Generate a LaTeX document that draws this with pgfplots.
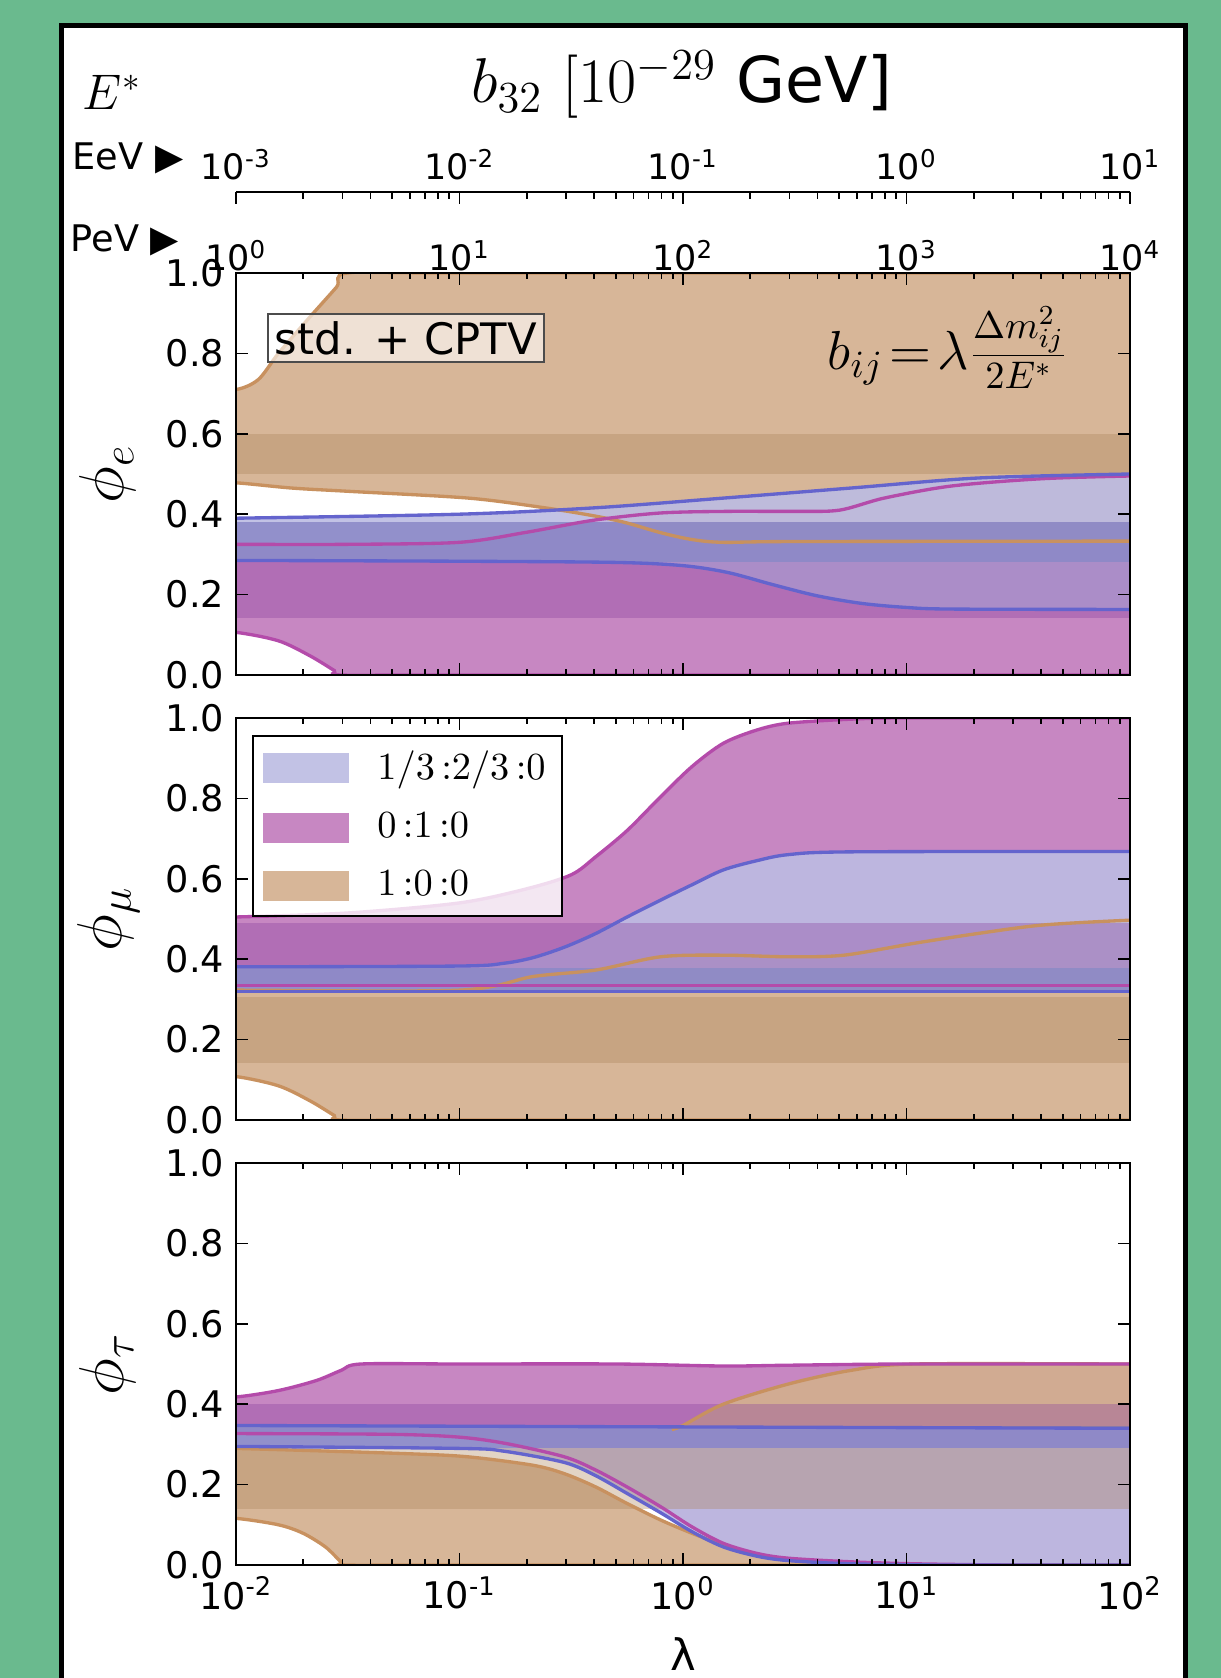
\RequirePackage{fix-cm}
\documentclass[border=0pt]{standalone}
\usepackage{fontspec}
\setmainfont{DejaVu Sans}
\usepackage{pgfplots}
\pgfplotsset{compat=1.18}

\definecolor{bgG}{RGB}{106,186,142}
\definecolor{tanF}{RGB}{211,175,141}
\definecolor{magF}{RGB}{194,122,188}
\definecolor{bluF}{RGB}{188,188,227}
\definecolor{tanS}{RGB}{172,132,89}
\definecolor{magS}{RGB}{138,66,159}
\definecolor{bluS}{RGB}{75,70,165}
\definecolor{tanE}{RGB}{200,145,95}
\definecolor{magE}{RGB}{180,75,170}
\definecolor{bluE}{RGB}{100,100,205}

\begin{document}
\begin{tikzpicture}
\path[use as bounding box] (0,0) rectangle (366.3pt,503.4pt);
\fill[bgG] (0,0) rectangle (366.3pt,503.4pt);
\fill[white] (18.3pt,-5pt) rectangle (355.65pt,495.6pt);
\draw[line width=1.5pt] (18.3pt,-5pt) -- (18.3pt,495.6pt) -- (355.65pt,495.6pt) -- (355.65pt,-5pt);

\node[anchor=base, font=\fontsize{19}{22}\selectfont] at (204.6pt,472.5pt) {$b_{32}$ $[10^{-29}$ GeV]};
\node[anchor=base, font=\fontsize{15}{17}\selectfont] at (33.6pt,470.4pt) {$E^*$};
\node[anchor=base west, inner sep=0, font=\fontsize{11}{13}\selectfont] at (21.6pt,452.4pt) {EeV ▶};
\node[anchor=base west, inner sep=0, font=\fontsize{11}{13}\selectfont] at (21pt,427.8pt) {PeV ▶};

% top energy axis (EeV)
\begin{axis}[
  at={(70.8pt,445.8pt)}, anchor=north west,
  scale only axis, width=268.2pt, height=20pt,
  xmode=log, xmin=0.001, xmax=10, ymin=0, ymax=1,
  axis x line*=top, axis y line=none,
  xtick={0.001,0.01,0.1,1,10},
  minor xtick={0.002,0.003,0.004,0.005,0.006,0.007,0.008,0.009,
               0.02,0.03,0.04,0.05,0.06,0.07,0.08,0.09,
               0.2,0.3,0.4,0.5,0.6,0.7,0.8,0.9,2,3,4,5,6,7,8,9},
  xticklabels={10\textsuperscript{-3},10\textsuperscript{-2},10\textsuperscript{-1},10\textsuperscript{0},10\textsuperscript{1}},
  tick align=inside, major tick length=3.6pt, minor tick length=2pt,
  axis line style={line width=0.8pt, -},
  every tick/.style={black, line width=0.5pt},
  tick label style={font=\fontsize{10.5}{12}\selectfont},
]
\end{axis}

% ---------------- phi_e ----------------
\begin{axis}[at={(70.8pt,300.9pt)}, anchor=south west,
  scale only axis, width=268.2pt, height=120.6pt,
  xmode=log, xmin=0.01, xmax=100, ymin=0, ymax=1, axis on top,
  xtick={0.01,0.1,1,10,100},
  minor xtick={0.02,0.03,0.04,0.05,0.06,0.07,0.08,0.09,0.2,0.3,0.4,0.5,0.6,0.7,0.8,0.9,
               2,3,4,5,6,7,8,9,20,30,40,50,60,70,80,90},
  ytick={0,0.2,0.4,0.6,0.8,1}, yticklabels={0.0,0.2,0.4,0.6,0.8,1.0},
  xtick pos=both, ytick pos=both, tick align=inside,
  major tick length=3.6pt, minor tick length=1.8pt,
  axis line style={line width=0.8pt},
  every tick/.style={black, line width=0.5pt},
  tick label style={font=\fontsize{11}{13}\selectfont},
  ylabel style={at={(axis description cs:-0.143,0.5)}, anchor=center, font=\fontsize{19}{22}\selectfont},
  xticklabel pos=right, xticklabel style={yshift=-3pt, font=\fontsize{10.5}{12}\selectfont},
  xticklabels={10\textsuperscript{0},10\textsuperscript{1},10\textsuperscript{2},10\textsuperscript{3},10\textsuperscript{4}},
  ylabel={$\phi_e$}]
% bands: 0:1:0, 1:0:0, 1/3:2/3:0
\addplot[smooth, fill=magF, fill opacity=0.9, draw=none] coordinates {(0.007,0.325) (0.01,0.325) (0.03162,0.325) (0.1,0.33) (0.1995,0.355) (0.3981,0.385) (0.7943,0.403) (1.585,0.407) (3.162,0.407) (5.012,0.41) (7.943,0.44) (15.85,0.47) (39.81,0.488) (100,0.495) (140,0.495)
  (140,0) (100,0) (0.1,0) (0.02951,0) (0.02754,0.011) (0.02138,0.048) (0.01549,0.085) (0.01,0.106) (0.007,0.106)} --cycle;
\addplot[smooth, fill=tanF, fill opacity=0.9, draw=none] coordinates {(0.007,0.71) (0.01,0.71) (0.01259,0.735) (0.01549,0.80) (0.02138,0.89) (0.02818,0.965) (0.03162,1.0) (0.1,1.0) (100,1.0) (140,1.0)
  (140,0.333) (100,0.333) (3.162,0.332) (1.514,0.33) (1.096,0.337) (0.7943,0.354) (0.5623,0.378) (0.4074,0.395) (0.2399,0.416) (0.1097,0.44) (0.03162,0.457) (0.01778,0.465) (0.01,0.478) (0.007,0.478)} --cycle;
\addplot[smooth, fill=bluF, fill opacity=0.9, draw=none] coordinates {(0.007,0.39) (0.01,0.39) (0.1,0.40) (0.4074,0.416) (1.514,0.44) (5.623,0.465) (20.89,0.49) (100,0.5) (140,0.5)
  (140,0.163) (100,0.163) (15.85,0.164) (10,0.168) (6.31,0.178) (3.981,0.197) (2.512,0.225) (1.585,0.255) (1,0.272) (0.5012,0.28) (0.1,0.283) (0.01,0.285) (0.007,0.285)} --cycle;
% standard ranges
\addplot[fill=tanS, fill opacity=0.35, draw=none] coordinates {(0.01,0.5) (100,0.5) (100,0.6) (0.01,0.6)} --cycle;
\addplot[fill=bluS, fill opacity=0.4, draw=none] coordinates {(0.01,0.28) (100,0.28) (100,0.38) (0.01,0.38)} --cycle;
\addplot[fill=magS, fill opacity=0.35, draw=none] coordinates {(0.01,0.143) (100,0.143) (100,0.28) (0.01,0.28)} --cycle;
% edges
\addplot[smooth, tanE, line width=1pt] coordinates {(0.007,0.71) (0.01,0.71) (0.01259,0.735) (0.01549,0.80) (0.02138,0.89) (0.02818,0.965) (0.03162,1.0) (0.1,1.0) (100,1.0) (140,1.0)};
\addplot[smooth, tanE, line width=1pt] coordinates {(0.007,0.478) (0.01,0.478) (0.01778,0.465) (0.03162,0.457) (0.1097,0.44) (0.2399,0.416) (0.4074,0.395) (0.5623,0.378) (0.7943,0.354) (1.096,0.337) (1.514,0.33) (3.162,0.332) (100,0.333) (140,0.333)};
\addplot[smooth, magE, line width=1pt] coordinates {(0.007,0.325) (0.01,0.325) (0.03162,0.325) (0.1,0.33) (0.1995,0.355) (0.3981,0.385) (0.7943,0.403) (1.585,0.407) (3.162,0.407) (5.012,0.41) (7.943,0.44) (15.85,0.47) (39.81,0.488) (100,0.495) (140,0.495)};
\addplot[smooth, magE, line width=1pt] coordinates {(0.007,0.106) (0.01,0.106) (0.01549,0.085) (0.02138,0.048) (0.02754,0.011) (0.02951,0) (0.1,0) (100,0) (140,0)};
\addplot[smooth, bluE, line width=1pt] coordinates {(0.007,0.39) (0.01,0.39) (0.1,0.40) (0.4074,0.416) (1.514,0.44) (5.623,0.465) (20.89,0.49) (100,0.5) (140,0.5)};
\addplot[smooth, bluE, line width=1pt] coordinates {(0.007,0.285) (0.01,0.285) (0.1,0.283) (0.5012,0.28) (1,0.272) (1.585,0.255) (2.512,0.225) (3.981,0.197) (6.31,0.178) (10,0.168) (15.85,0.164) (100,0.163) (140,0.163)};
\node[draw=gray!60!black, fill=white, fill opacity=0.6, text opacity=1, line width=0.6pt,
      font=\fontsize{13}{15}\selectfont, inner sep=2.2pt] at (rel axis cs:0.190,0.838) {std. + CPTV};
\node[anchor=base west, inner sep=0, font=\fontsize{16.5}{19}\selectfont] at (rel axis cs:0.661,0.761) {$b_{ij}\!=\!\lambda\frac{\Delta m^2_{ij}}{2E^*}$};
\end{axis}

% ---------------- phi_mu ----------------
\begin{axis}[at={(70.8pt,167.4pt)}, anchor=south west,
  scale only axis, width=268.2pt, height=120.6pt,
  xmode=log, xmin=0.01, xmax=100, ymin=0, ymax=1, axis on top,
  xtick={0.01,0.1,1,10,100},
  minor xtick={0.02,0.03,0.04,0.05,0.06,0.07,0.08,0.09,0.2,0.3,0.4,0.5,0.6,0.7,0.8,0.9,
               2,3,4,5,6,7,8,9,20,30,40,50,60,70,80,90},
  ytick={0,0.2,0.4,0.6,0.8,1}, yticklabels={0.0,0.2,0.4,0.6,0.8,1.0},
  xtick pos=both, ytick pos=both, tick align=inside,
  major tick length=3.6pt, minor tick length=1.8pt,
  axis line style={line width=0.8pt},
  every tick/.style={black, line width=0.5pt},
  tick label style={font=\fontsize{11}{13}\selectfont},
  ylabel style={at={(axis description cs:-0.143,0.5)}, anchor=center, font=\fontsize{19}{22}\selectfont},
  xticklabels={}, ylabel={$\phi_\mu$},
  legend style={at={(axis description cs:0.018,0.958)}, anchor=north west,
    fill=white, fill opacity=0.8, draw opacity=1, text opacity=1, draw=black,
    line width=0.6pt, font=\fontsize{11.5}{13}\selectfont, row sep=4.5pt, column sep=6.5pt,
    inner xsep=3pt, inner ysep=2.5pt},
  legend cell align=left,
  legend image code/.code={\fill[#1] (0pt,-4.5pt) rectangle (25.8pt,4.5pt);}]
\addlegendimage{fill=bluF, fill opacity=0.9, draw=none}
\addlegendentry{$1/3\,\mathord{:}2/3\,\mathord{:}0$}
\addlegendimage{fill=magF, fill opacity=0.9, draw=none}
\addlegendentry{$0\,\mathord{:}1\,\mathord{:}0$}
\addlegendimage{fill=tanF, fill opacity=0.9, draw=none}
\addlegendentry{$1\,\mathord{:}0\,\mathord{:}0$}
\addplot[smooth, fill=magF, fill opacity=0.9, draw=none] coordinates {(0.007,0.505) (0.01,0.505) (0.03162,0.515) (0.1,0.54) (0.1995,0.575) (0.3162,0.61) (0.4074,0.655) (0.5623,0.72) (0.7943,0.804) (1.096,0.879) (1.514,0.937) (2.138,0.97) (2.951,0.987) (5.623,0.997) (10,1.0) (100,1.0) (140,1.0)
  (140,0.335) (100,0.335) (0.01,0.335) (0.007,0.335)} --cycle;
\addplot[smooth, fill=tanF, fill opacity=0.9, draw=none] coordinates {(0.007,0.323) (0.01,0.323) (0.1,0.323) (0.2138,0.357) (0.4074,0.373) (0.7943,0.406) (1.514,0.41) (2.951,0.406) (5.248,0.41) (10.96,0.44) (20.89,0.464) (40.74,0.485) (100,0.497) (140,0.497)
  (140,0) (100,0) (0.1,0) (0.02951,0) (0.02754,0.011) (0.02138,0.048) (0.01549,0.085) (0.01,0.108) (0.007,0.108)} --cycle;
\addplot[smooth, fill=bluF, fill opacity=0.9, draw=none] coordinates {(0.007,0.381) (0.01,0.381) (0.1,0.383) (0.1585,0.39) (0.2138,0.404) (0.2951,0.43) (0.4074,0.464) (0.5623,0.505) (0.7943,0.547) (1.096,0.585) (1.514,0.622) (2.138,0.645) (2.951,0.66) (5.623,0.667) (100,0.668) (140,0.668)
  (140,0.32) (100,0.32) (0.01,0.32) (0.007,0.32)} --cycle;
\addplot[fill=tanS, fill opacity=0.35, draw=none] coordinates {(0.01,0.141) (100,0.141) (100,0.307) (0.01,0.307)} --cycle;
\addplot[fill=bluS, fill opacity=0.4, draw=none] coordinates {(0.01,0.315) (100,0.315) (100,0.377) (0.01,0.377)} --cycle;
\addplot[fill=magS, fill opacity=0.35, draw=none] coordinates {(0.01,0.377) (100,0.377) (100,0.49) (0.01,0.49)} --cycle;
\addplot[smooth, tanE, line width=1pt] coordinates {(0.007,0.323) (0.01,0.323) (0.1,0.323) (0.2138,0.357) (0.4074,0.373) (0.7943,0.406) (1.514,0.41) (2.951,0.406) (5.248,0.41) (10.96,0.44) (20.89,0.464) (40.74,0.485) (100,0.497) (140,0.497)};
\addplot[smooth, tanE, line width=1pt] coordinates {(0.007,0.108) (0.01,0.108) (0.01549,0.085) (0.02138,0.048) (0.02754,0.011) (0.02951,0) (0.1,0) (100,0) (140,0)};
\addplot[smooth, magE, line width=1pt] coordinates {(0.007,0.505) (0.01,0.505) (0.03162,0.515) (0.1,0.54) (0.1995,0.575) (0.3162,0.61) (0.4074,0.655) (0.5623,0.72) (0.7943,0.804) (1.096,0.879) (1.514,0.937) (2.138,0.97) (2.951,0.987) (5.623,0.997) (10,1.0) (100,1.0) (140,1.0)};
\addplot[magE, line width=1pt] coordinates {(0.01,0.335) (100,0.335)};
\addplot[smooth, bluE, line width=1pt] coordinates {(0.007,0.381) (0.01,0.381) (0.1,0.383) (0.1585,0.39) (0.2138,0.404) (0.2951,0.43) (0.4074,0.464) (0.5623,0.505) (0.7943,0.547) (1.096,0.585) (1.514,0.622) (2.138,0.645) (2.951,0.66) (5.623,0.667) (100,0.668) (140,0.668)};
\addplot[bluE, line width=1pt] coordinates {(0.01,0.32) (100,0.32)};
\end{axis}

% ---------------- phi_tau ----------------
\begin{axis}[at={(70.8pt,33.9pt)}, anchor=south west,
  scale only axis, width=268.2pt, height=120.6pt,
  xmode=log, xmin=0.01, xmax=100, ymin=0, ymax=1, axis on top,
  xtick={0.01,0.1,1,10,100},
  minor xtick={0.02,0.03,0.04,0.05,0.06,0.07,0.08,0.09,0.2,0.3,0.4,0.5,0.6,0.7,0.8,0.9,
               2,3,4,5,6,7,8,9,20,30,40,50,60,70,80,90},
  ytick={0,0.2,0.4,0.6,0.8,1}, yticklabels={0.0,0.2,0.4,0.6,0.8,1.0},
  xtick pos=both, ytick pos=both, tick align=inside,
  major tick length=3.6pt, minor tick length=1.8pt,
  axis line style={line width=0.8pt},
  every tick/.style={black, line width=0.5pt},
  tick label style={font=\fontsize{11}{13}\selectfont},
  ylabel style={at={(axis description cs:-0.143,0.5)}, anchor=center, font=\fontsize{19}{22}\selectfont},
  xticklabels={10\textsuperscript{-2},10\textsuperscript{-1},10\textsuperscript{0},10\textsuperscript{1},10\textsuperscript{2}},
  ylabel={$\phi_\tau$},
  xlabel={λ},
  xlabel style={at={(axis description cs:0.5,-0.222)}, anchor=center, font=\fontsize{13}{15}\selectfont}]
\addplot[smooth, fill=magF, fill opacity=0.9, draw=none] coordinates {(0.007,0.418) (0.01,0.418) (0.01549,0.434) (0.02291,0.459) (0.02951,0.484) (0.03631,0.5) (0.1,0.5) (0.5,0.5) (1.5,0.495) (3,0.497) (10,0.5) (100,0.5) (140,0.5)
  (140,0) (100,0) (30,0) (10.96,0.003) (5.623,0.008) (2.951,0.017) (2.138,0.029) (1.514,0.054) (1.096,0.095) (0.7943,0.145) (0.5623,0.194) (0.4074,0.236) (0.2951,0.269) (0.1622,0.302) (0.1,0.318) (0.05,0.325) (0.01,0.327) (0.007,0.327)} --cycle;
\addplot[smooth, fill=tanF, fill opacity=0.9, draw=none] coordinates {(0.007,0.29) (0.01,0.29) (0.05754,0.277) (0.1096,0.269) (0.2138,0.248) (0.2951,0.227) (0.4074,0.194) (0.5623,0.153) (0.7943,0.112) (1.096,0.079) (1.514,0.05) (2.138,0.025) (2.951,0.012) (4.074,0.005) (5.623,0) (100,0) (140,0)
  (140,0) (100,0) (0.1,0) (0.03162,0) (0.02951,0.008) (0.02512,0.045) (0.01995,0.079) (0.01549,0.10) (0.01,0.116) (0.007,0.116)} --cycle;
\addplot[smooth, fill=tanF, fill opacity=0.9, draw=none] coordinates {(0.8913,0.337) (1,0.347) (1.514,0.40) (2.951,0.45) (5.623,0.484) (10.96,0.5) (100,0.5) (140,0.5)
  (140,0.335) (100,0.335) (0.8913,0.335)} --cycle;
\addplot[smooth, fill=bluF, fill opacity=0.9, draw=none] coordinates {(0.007,0.347) (0.01,0.347) (100,0.34) (140,0.34)
  (140,0) (100,0) (15,0) (5.623,0.003) (2.951,0.011) (2.138,0.022) (1.514,0.045) (1.096,0.083) (0.7943,0.13) (0.5623,0.178) (0.4074,0.222) (0.2951,0.255) (0.1585,0.283) (0.1,0.29) (0.01,0.295) (0.007,0.295)} --cycle;
\addplot[fill=tanS, fill opacity=0.35, draw=none] coordinates {(0.01,0.14) (100,0.14) (100,0.29) (0.01,0.29)} --cycle;
\addplot[fill=bluS, fill opacity=0.4, draw=none] coordinates {(0.01,0.29) (100,0.29) (100,0.345) (0.01,0.345)} --cycle;
\addplot[fill=magS, fill opacity=0.35, draw=none] coordinates {(0.01,0.345) (100,0.345) (100,0.40) (0.01,0.40)} --cycle;
\addplot[smooth, tanE, line width=1pt] coordinates {(0.007,0.29) (0.01,0.29) (0.05754,0.277) (0.1096,0.269) (0.2138,0.248) (0.2951,0.227) (0.4074,0.194) (0.5623,0.153) (0.7943,0.112) (1.096,0.079) (1.514,0.05) (2.138,0.025) (2.951,0.012) (4.074,0.005) (5.623,0) (100,0) (140,0)};
\addplot[smooth, tanE, line width=1pt] coordinates {(0.007,0.116) (0.01,0.116) (0.01549,0.10) (0.01995,0.079) (0.02512,0.045) (0.02951,0.008) (0.03162,0) (0.1,0) (100,0) (140,0)};
\addplot[smooth, tanE, line width=1pt] coordinates {(0.8913,0.337) (1,0.347) (1.514,0.40) (2.951,0.45) (5.623,0.484) (10.96,0.5) (100,0.5) (140,0.5)};
\addplot[smooth, magE, line width=1pt] coordinates {(0.007,0.418) (0.01,0.418) (0.01549,0.434) (0.02291,0.459) (0.02951,0.484) (0.03631,0.5) (0.1,0.5) (0.5,0.5) (1.5,0.495) (3,0.497) (10,0.5) (100,0.5) (140,0.5)};
\addplot[smooth, magE, line width=1pt] coordinates {(0.007,0.327) (0.01,0.327) (0.05,0.325) (0.1,0.318) (0.1622,0.302) (0.2951,0.269) (0.4074,0.236) (0.5623,0.194) (0.7943,0.145) (1.096,0.095) (1.514,0.054) (2.138,0.029) (2.951,0.017) (5.623,0.008) (10.96,0.003) (30,0) (100,0) (140,0)};
\addplot[bluE, line width=1pt] coordinates {(0.01,0.347) (100,0.34)};
\addplot[smooth, bluE, line width=1pt] coordinates {(0.007,0.295) (0.01,0.295) (0.1,0.29) (0.1585,0.283) (0.2951,0.255) (0.4074,0.222) (0.5623,0.178) (0.7943,0.13) (1.096,0.083) (1.514,0.045) (2.138,0.022) (2.951,0.011) (5.623,0.003) (15,0) (100,0) (140,0)};
\end{axis}
\end{tikzpicture}
\end{document}
